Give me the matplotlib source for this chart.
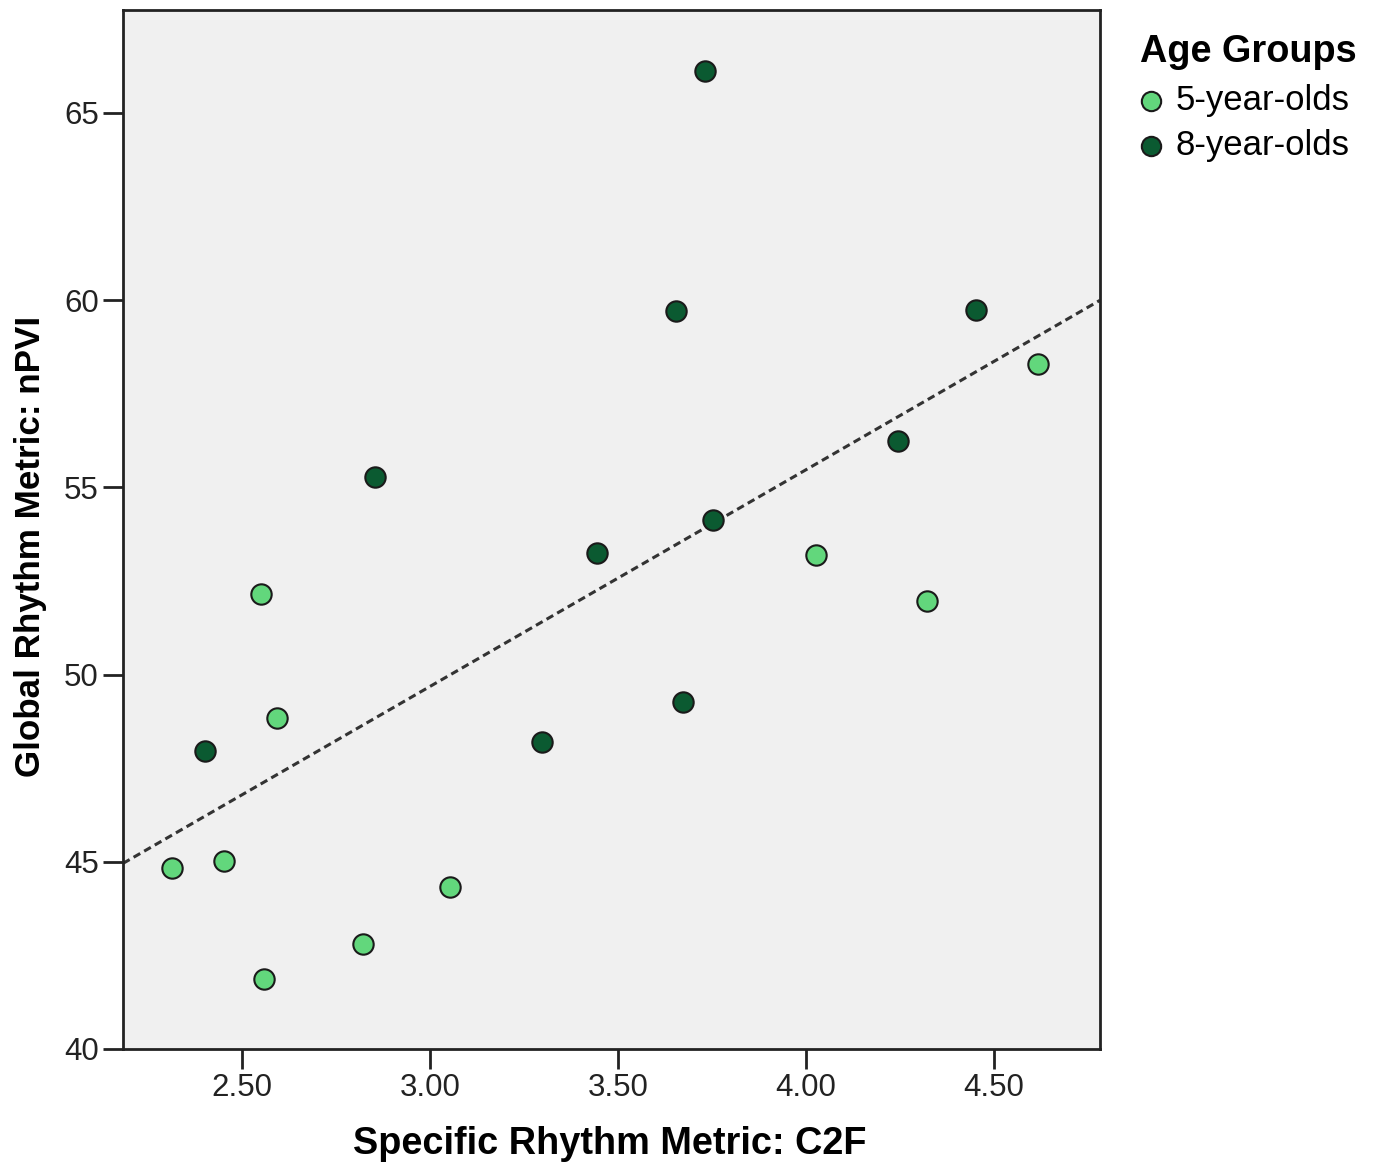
import matplotlib
matplotlib.use("Agg")
import matplotlib.pyplot as plt
import numpy as np

# ================= Data =================
c2f_5yo = [2.314, 2.452, 2.551, 2.593, 2.559, 2.822, 3.053, 4.027, 4.322, 4.617]
npvi_5yo = [44.83, 45.02, 52.15, 48.84, 41.87, 42.80, 44.32, 53.19, 51.96, 58.29]

c2f_8yo = [2.402, 2.854, 3.298, 3.444, 3.654, 3.673, 3.731, 3.753, 4.245, 4.452]
npvi_8yo = [47.96, 55.27, 48.20, 53.24, 59.70, 49.26, 66.13, 54.12, 56.23, 59.73]

group_labels = ["5-year-olds", "8-year-olds"]
x_ticks = [2.5, 3.0, 3.5, 4.0, 4.5]
y_ticks = [40, 45, 50, 55, 60, 65]
# ========================================

plt.rcParams['font.family'] = ['Liberation Sans', 'DejaVu Sans']

fig = plt.figure(figsize=(13.76, 11.72), dpi=100)
ax = fig.add_axes([123 / 1376, 1 - 1049 / 1172, (1100 - 123) / 1376, (1049 - 10) / 1172])
ax.set_facecolor("#f0f0f0")

ax.scatter(c2f_5yo, npvi_5yo, s=215, color="#62d77c", edgecolor="#1a1a1a",
           linewidth=1.5, zorder=3, label=group_labels[0])
ax.scatter(c2f_8yo, npvi_8yo, s=215, color="#0b5a31", edgecolor="#1a1a1a",
           linewidth=1.5, zorder=3, label=group_labels[1])

# fit line across all children
all_x = np.array(c2f_5yo + c2f_8yo)
all_y = np.array(npvi_5yo + npvi_8yo)
slope, intercept = np.polyfit(all_x, all_y, 1)
xlim = (2.1835, 4.782)
xs = np.array(xlim)
ax.plot(xs, intercept + slope * xs, linestyle=(0, (2.5, 1.5)), color="#333333",
        linewidth=2.2, zorder=2)

ax.set_xlim(*xlim)
ax.set_ylim(40, 67.75)
ax.set_xticks(x_ticks)
ax.set_xticklabels([f"{v:.2f}" for v in x_ticks])
ax.set_yticks(y_ticks)
ax.set_yticklabels([str(v) for v in y_ticks])
ax.tick_params(direction="out", length=14.5, width=2, labelsize=22.5, colors="#222222", pad=3)
for sp in ax.spines.values():
    sp.set_linewidth(2)
    sp.set_color("#222222")

ax.set_xlabel("Specific Rhythm Metric: C2F", fontsize=27.3, fontweight="bold")
ax.set_ylabel("Global Rhythm Metric: nPVI", fontsize=25.2, fontweight="bold")
ax.xaxis.set_label_coords(0.498, -0.074)
ax.yaxis.set_label_coords(-0.078, 0.484)

# legend title drawn separately so the gap to the entries matches
fig.text(1140 / 1376, 1 - 52 / 1172, "Age Groups", fontsize=27.3, fontweight="bold",
         ha="left", va="center")
leg = ax.legend(loc="upper left", bbox_to_anchor=(1137 / 1376, 1 - 84 / 1172),
                bbox_transform=fig.transFigure, frameon=False, fontsize=25,
                handlelength=0.8, handletextpad=0.3, borderpad=0,
                markerscale=0.95, borderaxespad=0, labelspacing=0.36)

fig.savefig("out.png", dpi=100)
